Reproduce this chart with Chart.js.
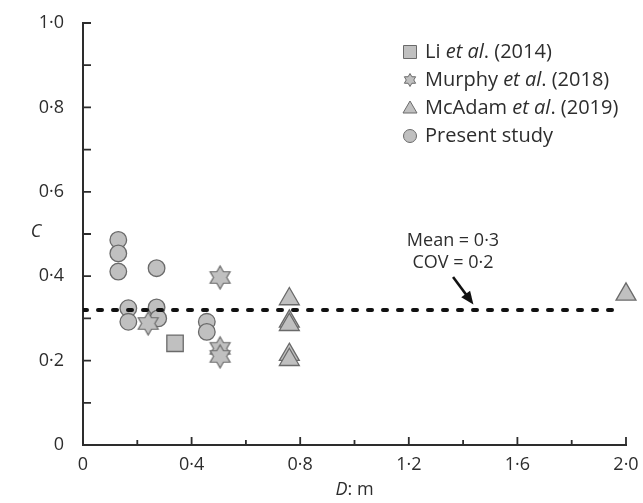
<!DOCTYPE html>
<html>
<head>
<meta charset="utf-8">
<script src="https://cdn.jsdelivr.net/npm/chart.js@4.4.1/dist/chart.umd.min.js"></script>
<style>
  body { margin: 0; background: #fff; }
  #wrap { width: 643px; height: 503px; }
</style>
</head>
<body>
<div id="wrap"><canvas id="c_vs_d_chart_area"></canvas></div>
<script>
// Li et al. (2014)
const li_d = [0.339];
const li_c = [0.241];

// Murphy et al. (2018)
const murphy_d = [0.240, 0.505, 0.505, 0.505];
const murphy_c = [0.288, 0.397, 0.229, 0.210];

// McAdam et al. (2019)
const mcadam_d = [0.760, 0.760, 0.760, 0.760, 0.760, 2.0];
const mcadam_c = [0.346, 0.293, 0.285, 0.214, 0.202, 0.357];

// Present study
const present_d = [0.130, 0.130, 0.130, 0.271, 0.167, 0.167, 0.271, 0.277, 0.456, 0.456];
const present_c = [0.486, 0.454, 0.411, 0.419, 0.324, 0.292, 0.326, 0.300, 0.292, 0.268];

// mean line
const mean_d = [0, 1.97];
const mean_c = [0.32, 0.32];

const x_minor_ticks = [0.2, 0.6, 1.0, 1.4, 1.8];
const y_minor_ticks = [0.1, 0.3, 0.5, 0.7, 0.9];

const legend_names = [
  ["Li ", "et al", ". (2014)"],
  ["Murphy ", "et al", ". (2018)"],
  ["McAdam ", "et al", ". (2019)"],
  ["Present study", "", ""],
];

const FILL = "#c0c0c0";
const EDGE = "#6a6a6a";
const INK = "#2d2d2d";
const FONT = "'Open Sans', 'Noto Sans', sans-serif";
const FS = 18;

const toPoints = (xs, ys) => xs.map((x, i) => ({ x: x, y: ys[i] }));
const fmt = (v) => (Math.abs(v) < 1e-9 ? "0" : v.toFixed(1).replace(".", "\u00b7"));

function makeStar(R, lw) {
  const size = Math.ceil(2 * R + lw + 2);
  const cv = document.createElement("canvas");
  cv.width = size;
  cv.height = size;
  const g = cv.getContext("2d");
  const c = size / 2;
  const r = R / Math.sqrt(3);
  g.beginPath();
  for (let i = 0; i < 12; i++) {
    const a = -Math.PI / 2 + (i * Math.PI) / 6;
    const rr = i % 2 === 0 ? R : r;
    g.lineTo(c + rr * Math.cos(a), c + rr * Math.sin(a));
  }
  g.closePath();
  g.fillStyle = FILL;
  g.fill();
  g.lineWidth = lw;
  g.strokeStyle = EDGE;
  g.stroke();
  return cv;
}

const star_big = makeStar(11.5, 1.2);
const star_small = makeStar(6.5, 1);

// axis ticks drawn inward, axis titles, legend and the mean annotation
const decorPlugin = {
  id: "decor",
  afterDraw(chart) {
    const ctx = chart.ctx;
    const xs = chart.scales.x;
    const ys = chart.scales.y;
    const area = chart.chartArea;
    ctx.save();
    ctx.strokeStyle = INK;
    ctx.lineWidth = 1.8;
    ctx.beginPath();
    xs.ticks.forEach((t) => {
      const px = xs.getPixelForValue(t.value);
      ctx.moveTo(px, area.bottom);
      ctx.lineTo(px, area.bottom - 8);
    });
    x_minor_ticks.forEach((v) => {
      const px = xs.getPixelForValue(v);
      ctx.moveTo(px, area.bottom);
      ctx.lineTo(px, area.bottom - 5);
    });
    ys.ticks.concat(y_minor_ticks.map((v) => ({ value: v }))).forEach((t) => {
      const py = ys.getPixelForValue(t.value);
      ctx.moveTo(area.left, py);
      ctx.lineTo(area.left + 8, py);
    });
    ctx.stroke();

    // axis titles
    ctx.fillStyle = INK;
    ctx.textBaseline = "middle";
    ctx.textAlign = "center";
    ctx.font = "italic " + FS + "px " + FONT;
    ctx.fillText("C", 36, 232);
    ctx.textAlign = "left";
    const t1 = "D";
    const t2 = ": m";
    ctx.font = "italic " + FS + "px " + FONT;
    const w1 = ctx.measureText(t1).width;
    ctx.font = FS + "px " + FONT;
    const w2 = ctx.measureText(t2).width;
    const cx = (area.left + area.right) / 2;
    let sx = cx - (w1 + w2) / 2;
    ctx.font = "italic " + FS + "px " + FONT;
    ctx.fillText(t1, sx, 490);
    ctx.font = FS + "px " + FONT;
    ctx.fillText(t2, sx + w1, 490);

    // legend
    const lx = 410;
    const tx = 425;
    const rows = [52, 80, 108, 136];
    rows.forEach((ry, i) => {
      ctx.fillStyle = FILL;
      ctx.strokeStyle = EDGE;
      ctx.lineWidth = 1;
      ctx.beginPath();
      if (i === 0) {
        ctx.rect(lx - 6.5, ry - 6.5, 13, 13);
      } else if (i === 2) {
        ctx.moveTo(lx, ry - 7);
        ctx.lineTo(lx + 7, ry + 5);
        ctx.lineTo(lx - 7, ry + 5);
        ctx.closePath();
      } else if (i === 3) {
        ctx.arc(lx, ry, 6.5, 0, Math.PI * 2);
      }
      if (i === 1) {
        ctx.drawImage(star_small, lx - star_small.width / 2, ry - star_small.height / 2);
      } else {
        ctx.fill();
        ctx.stroke();
      }
      const parts = legend_names[i];
      let px = tx;
      ctx.fillStyle = INK;
      parts.forEach((p, k) => {
        ctx.font = (k === 1 ? "italic " : "") + "20px " + FONT;
        ctx.fillText(p, px, ry);
        px += ctx.measureText(p).width;
      });
    });

    // mean annotation
    ctx.textAlign = "center";
    ctx.font = FS + "px " + FONT;
    ctx.fillText("Mean = 0\u00b73", 453, 241);
    ctx.fillText("COV = 0\u00b72", 453, 263);
    const ax0 = xs.getPixelForValue(1.363);
    const ay0 = ys.getPixelForValue(0.398);
    const ax1 = xs.getPixelForValue(1.438);
    const ay1 = ys.getPixelForValue(0.333);
    const ang = Math.atan2(ay1 - ay0, ax1 - ax0);
    ctx.strokeStyle = "#111";
    ctx.lineWidth = 2.6;
    ctx.beginPath();
    ctx.moveTo(ax0, ay0);
    ctx.lineTo(ax1 - 8 * Math.cos(ang), ay1 - 8 * Math.sin(ang));
    ctx.stroke();
    ctx.fillStyle = "#111";
    ctx.beginPath();
    ctx.moveTo(ax1, ay1);
    ctx.lineTo(ax1 - 13 * Math.cos(ang) + 5.5 * Math.sin(ang), ay1 - 13 * Math.sin(ang) - 5.5 * Math.cos(ang));
    ctx.lineTo(ax1 - 13 * Math.cos(ang) - 5.5 * Math.sin(ang), ay1 - 13 * Math.sin(ang) + 5.5 * Math.cos(ang));
    ctx.closePath();
    ctx.fill();
    ctx.restore();
  },
};

const c_vs_d_chart_area = document.getElementById("c_vs_d_chart_area").getContext("2d");
const c_vs_d_chart = new Chart(c_vs_d_chart_area, {
  type: "scatter",
  data: {
    datasets: [
      {
        type: "line",
        label: "Mean",
        data: toPoints(mean_d, mean_c),
        borderColor: "#111",
        borderWidth: 4,
        borderDash: [4, 11],
        borderCapStyle: "round",
        pointRadius: 0,
        fill: false,
      },
      {
        label: "Li et al. (2014)",
        data: toPoints(li_d, li_c),
        pointStyle: "rect",
        pointRadius: 11.6,
        backgroundColor: FILL,
        borderColor: EDGE,
        borderWidth: 1.3,
        clip: false,
      },
      {
        label: "Murphy et al. (2018)",
        data: toPoints(murphy_d, murphy_c),
        pointStyle: star_big,
        clip: false,
      },
      {
        label: "McAdam et al. (2019)",
        data: toPoints(mcadam_d, mcadam_c),
        pointStyle: "triangle",
        pointRadius: 11.5,
        backgroundColor: FILL,
        borderColor: EDGE,
        borderWidth: 1.3,
        clip: false,
      },
      {
        label: "Present study",
        data: toPoints(present_d, present_c),
        pointStyle: "circle",
        pointRadius: 8.3,
        backgroundColor: FILL,
        borderColor: EDGE,
        borderWidth: 1.3,
        clip: false,
      },
    ],
  },
  options: {
    responsive: true,
    maintainAspectRatio: false,
    animation: false,
    events: [],
    layout: { padding: { top: 23, right: 17, left: 0, bottom: 0 } },
    plugins: {
      legend: { display: false },
      tooltip: { enabled: false },
    },
    scales: {
      x: {
        type: "linear",
        min: 0,
        max: 2,
        grid: { display: false },
        border: { display: true, color: INK, width: 2 },
        ticks: {
          stepSize: 0.4,
          padding: 1,
          color: INK,
          font: { family: FONT, size: FS },
          maxRotation: 0,
          callback: (v) => fmt(v),
        },
        afterFit: (s) => { s.height = 58; },
      },
      y: {
        type: "linear",
        min: 0,
        max: 1,
        grid: { display: false },
        border: { display: true, color: INK, width: 2 },
        ticks: {
          stepSize: 0.2,
          padding: 11,
          color: INK,
          font: { family: FONT, size: FS },
          callback: (v) => fmt(v),
        },
        afterFit: (s) => { s.width = 83; },
      },
    },
  },
  plugins: [decorPlugin],
});
</script>
</body>
</html>
